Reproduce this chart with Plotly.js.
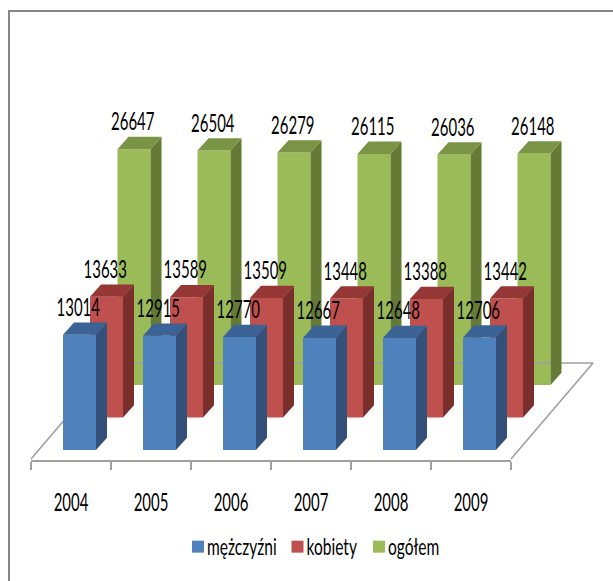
<!DOCTYPE html>
<html><head><meta charset="utf-8">
<script src="https://cdn.plot.ly/plotly-3.0.1.min.js"></script>
<style>html,body{margin:0;padding:0;background:#fff}</style>
</head><body><div id="chart" style="width:613px;height:581px"></div>
<script>
const years = ['2004','2005','2006','2007','2008','2009'];
const men = [13014,12915,12770,12667,12648,12706];
const women = [13633,13589,13509,13448,13388,13442];
const total = [26647,26504,26279,26115,26036,26148];

const W = 613, H = 581;
const PX = 1/80;            // category units per pixel
const VPX = 1/0.00885;      // value units per pixel
const xr = [-71*PX, (W-71)*PX];
const yr = [-(H-450)*VPX, 450*VPX];
const barW = 33*PX, depthX = 11*PX, depthY = 12.3*VPX;
const FONT = 'Lato, "Liberation Sans", sans-serif';

const seriesDefs = [
  {name:'ogółem',   vals:total, dx:63*PX,   base:65*VPX,   front:'#9bbb59', side:'#647a35', top:'#7a9445', ax:'2'},
  {name:'kobiety',  vals:women, dx:35.5*PX, base:32.5*VPX, front:'#c0504d', side:'#7a2f2d', top:'#953735', ax:'3'},
  {name:'mężczyźni',vals:men,   dx:8.5*PX,  base:0,        front:'#4f81bd', side:'#325078', top:'#3b6396', ax:'4'}
];

function polys(vals, dx, base, kind){
  const xs=[], ys=[];
  vals.forEach((v,i)=>{
    const l=i+dx-barW/2, r=i+dx+barW/2, t=base+v, b=base;
    let px, py;
    if(kind==='side'){ px=[r,r+depthX,r+depthX,r,r]; py=[b,b+depthY,t+depthY,t,b]; }
    else { px=[l,r,r+depthX,l+depthX,l]; py=[t,t,t+depthY,t+depthY,t]; }
    xs.push(...px,null); ys.push(...py,null);
  });
  return {x:xs,y:ys};
}

const traces=[];
traces.push({type:'scatter',mode:'markers',x:years,y:years.map(()=>0),marker:{opacity:0,size:1},
  xaxis:'x',yaxis:'y',showlegend:false,hoverinfo:'skip'});
const fl=-0.5, fr=5.5, fd=82*PX, fh=96*VPX, fy=-9*VPX;
traces.push({type:'scatter',mode:'lines',
  x:[fl,fl+fd,fr+fd,fr],y:[fy,fy+fh,fy+fh,fy],
  line:{color:'#a0a0a0',width:1.6},xaxis:'x2',yaxis:'y2',showlegend:false,hoverinfo:'skip'});

seriesDefs.forEach(s=>{
  const xa='x'+s.ax, ya='y'+s.ax;
  traces.push({type:'bar',name:s.name,x:s.vals.map((_,i)=>i+s.dx),y:s.vals,base:s.vals.map(()=>s.base),
    width:barW,marker:{color:s.front,line:{width:0}},xaxis:xa,yaxis:ya,hoverinfo:'skip'});
  const sd=polys(s.vals,s.dx,s.base,'side'), tp=polys(s.vals,s.dx,s.base,'top');
  traces.push({type:'scatter',mode:'lines',x:sd.x,y:sd.y,fill:'toself',fillcolor:s.side,line:{width:0,color:s.side},
    xaxis:xa,yaxis:ya,showlegend:false,hoverinfo:'skip'});
  traces.push({type:'scatter',mode:'lines',x:tp.x,y:tp.y,fill:'toself',fillcolor:s.top,line:{width:0,color:s.top},
    xaxis:xa,yaxis:ya,showlegend:false,hoverinfo:'skip'});
});
const labelFont={family:FONT,size:22,color:'#000'};
seriesDefs.forEach(s=>{
  traces.push({type:'scatter',mode:'text',x:s.vals.map((_,i)=>i+s.dx-1.2*PX),
    y:s.vals.map(v=>v+s.base+depthY+1*VPX),text:s.vals.map(String),textposition:'top center',
    textfont:labelFont,xaxis:'x5',yaxis:'y5',showlegend:false,hoverinfo:'skip',cliponaxis:false});
});

const hiddenX={domain:[0,1],range:xr,visible:false,fixedrange:true};
const hiddenY={domain:[0,1],range:yr,visible:false,fixedrange:true};
const layout={
  width:W,height:H,margin:{l:0,r:0,t:0,b:0},autosize:false,
  paper_bgcolor:'#fff',plot_bgcolor:'rgba(0,0,0,0)',barmode:'overlay',
  font:{family:FONT,color:'#000',size:20},
  xaxis:{type:'category',domain:[31/W,511/W],range:[-0.5,5.5],categoryorder:'array',categoryarray:years,tickson:'boundaries',
    ticks:'outside',ticklen:8,tickwidth:1.5,tickcolor:'#a0a0a0',linecolor:'#a0a0a0',linewidth:2,showline:true,
    showgrid:false,zeroline:false,tickfont:{size:22},ticklabelstandoff:23,fixedrange:true,anchor:'y'},
  yaxis:{domain:[(H-460)/H,1],visible:false,fixedrange:true,range:[0,1],anchor:'x'},
  xaxis2:{...hiddenX,anchor:'y2'},yaxis2:{...hiddenY,anchor:'x2'},
  xaxis3:{...hiddenX,anchor:'y3'},yaxis3:{...hiddenY,anchor:'x3'},
  xaxis4:{...hiddenX,anchor:'y4'},yaxis4:{...hiddenY,anchor:'x4'},
  xaxis5:{...hiddenX,anchor:'y5'},yaxis5:{...hiddenY,anchor:'x5'},
  showlegend:true,
  legend:{orientation:'h',x:0.5,xanchor:'center',y:(H-547)/H,yanchor:'middle',traceorder:'reversed',
    font:{size:21},bgcolor:'rgba(0,0,0,0)',itemclick:false,itemdoubleclick:false},
  shapes:[
    {type:'line',xref:'paper',yref:'paper',x0:9/W,x1:1,y0:1-11/H,y1:1-11/H,line:{color:'#868686',width:2}},
    {type:'line',xref:'paper',yref:'paper',x0:9/W,x1:9/W,y0:0,y1:1-10/H,line:{color:'#868686',width:2}}
  ]
};

// Squeeze text horizontally around its anchor, like the condensed lettering of the original
function squeeze(el,sx,sy){
  const x=+el.getAttribute('x')||0, y=+el.getAttribute('y')||0;
  const t=el.getAttribute('transform')||'';
  el.setAttribute('transform',`${t} translate(${x},${y}) scale(${sx},${sy}) translate(${-x},${-y})`);
}
const legendCenters=[198,297.5,379];
Plotly.newPlot('chart',traces,layout,{displayModeBar:false,staticPlot:true}).then(gd=>{
  gd.querySelectorAll('.textpoint text').forEach(el=>squeeze(el,0.68,1.18));
  gd.querySelectorAll('.xtick text').forEach(el=>squeeze(el,0.68,1.18));
  const sb=gd.querySelector('.legend .scrollbox');
  if(sb) sb.removeAttribute('clip-path');
  gd.querySelectorAll('.legend .traces').forEach((g,i)=>{
    const txt=g.querySelector('.legendtext');
    txt.setAttribute('x',29);
    squeeze(txt,0.74,1.12);
    const sw=g.querySelector('.legendbar path, .legendpoints path');
    const r=sw.getBoundingClientRect();
    const dx=legendCenters[i]-(r.left+r.width/2);
    g.setAttribute('transform',(g.getAttribute('transform')||'')+` translate(${dx},0)`);
  });
});
</script></body></html>
